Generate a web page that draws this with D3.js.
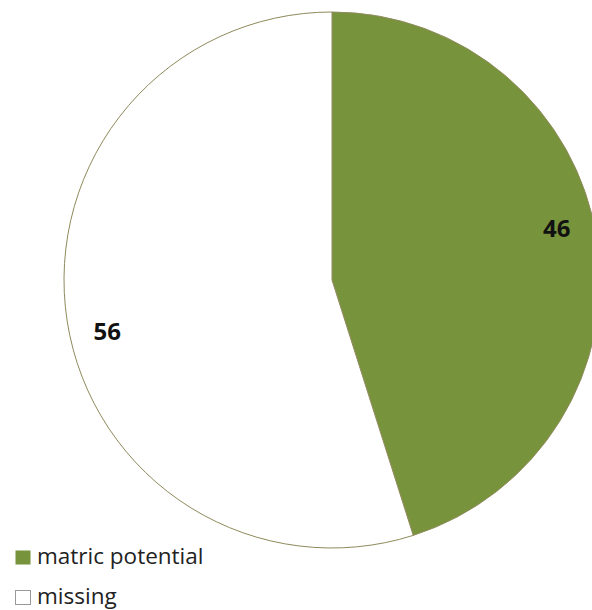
<!DOCTYPE html>
<meta charset="utf-8" />
<style>
  body { margin: 0; background: #fff; }
  svg { display: block; font-family: "Open Sans", sans-serif; }
</style>
<body>
  <div id="chart"></div>
  <script src="https://cdn.jsdelivr.net/npm/d3@7"></script>
  <script>
    var categories = ["matric potential", "missing"];
    var values = [46, 56];
    var colors = ["#77933C", "#ffffff"];

    var width = 592, height = 610;
    var cx = 332, cy = 280, radius = 268;

    var svg = d3.select("#chart")
      .append("svg")
      .attr("width", width)
      .attr("height", height);

    var pie = d3.pie().sort(null).value(function (d) { return d; });
    var arc = d3.arc().innerRadius(0).outerRadius(radius);
    var arcs = pie(values);

    var g = svg.append("g").attr("transform", "translate(" + cx + "," + cy + ")");

    g.selectAll("path")
      .data(arcs)
      .enter()
      .append("path")
      .attr("d", arc)
      .attr("fill", function (d, i) { return colors[i]; })
      .attr("stroke", "#8f8a5c")
      .attr("stroke-width", 1);

    // labels (excel "best fit" puts them a bit before the slice middle)
    var labelR = radius * 0.86;
    g.selectAll("text")
      .data(arcs)
      .enter()
      .append("text")
      .attr("transform", function (d) {
        var a = (d.startAngle + d.endAngle) / 2 - 0.07;
        return "translate(" + (Math.sin(a) * labelR) + "," + (-Math.cos(a) * labelR) + ")";
      })
      .attr("text-anchor", "middle")
      .attr("dy", "0.35em")
      .attr("font-size", "24px")
      .attr("font-weight", "bold")
      .attr("fill", "#111")
      .text(function (d) { return d.data; });

    // legend
    var legend = svg.selectAll(".legend")
      .data(categories)
      .enter()
      .append("g")
      .attr("class", "legend")
      .attr("transform", function (d, i) { return "translate(15," + (550 + i * 40) + ")"; });

    legend.append("rect")
      .attr("x", 0.5)
      .attr("y", 0.5)
      .attr("width", 15)
      .attr("height", 14)
      .attr("fill", function (d, i) { return colors[i]; })
      .attr("stroke", function (d, i) { return i === 0 ? "none" : "#999"; })
      .attr("stroke-width", 1);

    legend.append("text")
      .attr("x", 22)
      .attr("y", 14)
      .attr("font-size", "22.5px")
      .attr("fill", "#222")
      .text(function (d) { return d; });
  </script>
</body>
